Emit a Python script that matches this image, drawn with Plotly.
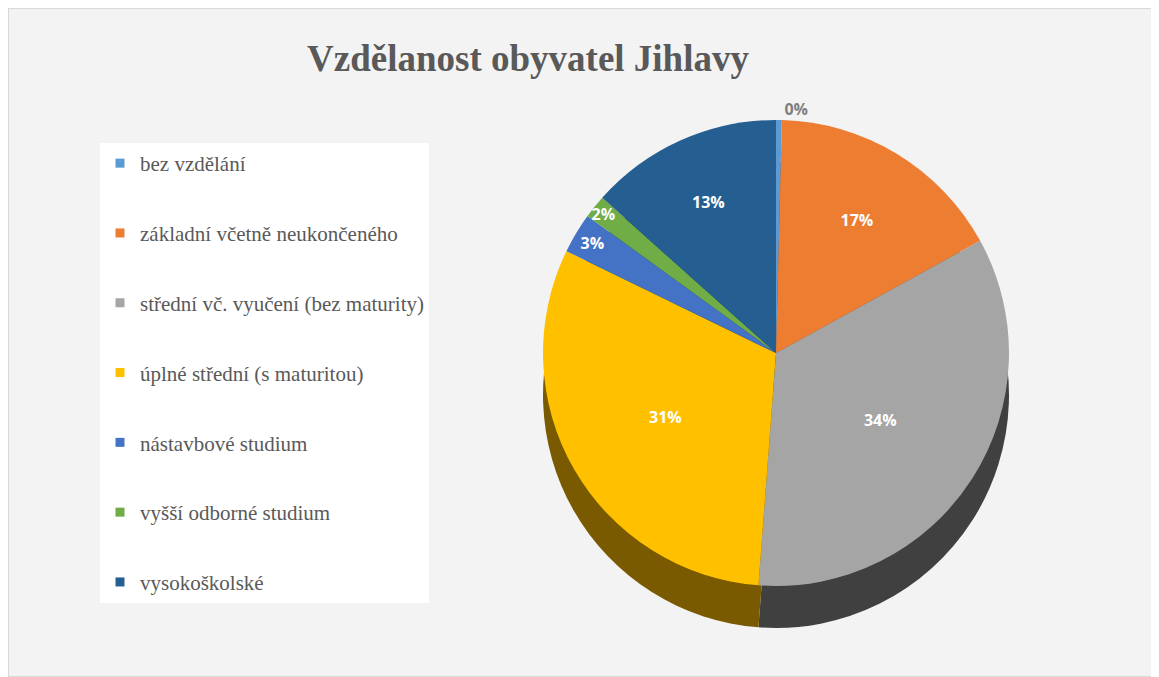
import plotly.graph_objects as go

title = "Vzdělanost obyvatel Jihlavy"
categories = [
    "bez vzdělání",
    "základní včetně neukončeného",
    "střední vč. vyučení (bez maturity)",
    "úplné střední (s maturitou)",
    "nástavbové studium",
    "vyšší odborné studium",
    "vysokoškolské",
]
shares = [0.4, 16.6, 34.2, 31.0, 2.8, 1.6, 13.4]
colors = ["#5B9BD5", "#ED7D31", "#A5A5A5", "#FFC000", "#4472C4", "#70AD47", "#255E91"]
side_colors = ["#2f5f8c", "#8a4416", "#404040", "#7a5a00", "#26427a", "#3f6627", "#143554"]
label_pos = ["outside", "inside", "inside", "inside", "inside", "inside", "inside"]

# the page body adds an 8px offset; size the figure to fill the window exactly
OFF = 8
W, H = 1159 - OFF, 677 - OFF

def px_x(v):
    return (v - OFF) / W

def px_y(v):
    return 1 - (v - OFF) / H

fig = go.Figure()

D = 466
cx, top = 776, 120
dx = [px_x(cx - D / 2), px_x(cx + D / 2)]

# 3D side (drawn behind, shifted down)
fig.add_trace(go.Pie(
    labels=categories, values=shares, sort=False, direction="clockwise", rotation=0,
    marker=dict(colors=side_colors, line=dict(width=0)),
    textinfo="none", hoverinfo="skip", showlegend=False,
    domain=dict(x=dx, y=[px_y(top + 42 + D), px_y(top + 42)]),
))

# top face
fig.add_trace(go.Pie(
    labels=categories, values=shares, sort=False, direction="clockwise", rotation=0,
    marker=dict(colors=colors, line=dict(width=0)),
    texttemplate="<b>%{percent:.0%}</b>", textposition=label_pos,
    insidetextorientation="horizontal",
    textfont=dict(family="Open Sans", size=16, color="white"),
    outsidetextfont=dict(family="Open Sans", size=16, color="#7f7f7f"),
    showlegend=False, automargin=False,
    domain=dict(x=dx, y=[px_y(top + D), px_y(top)]),
))

# legend entries
for i, (c, col) in enumerate(zip(categories, colors)):
    fig.add_trace(go.Scatter(
        x=[None], y=[None], mode="markers", name=c, legendgroup=f"g{i}",
        marker=dict(symbol="square", size=9, color=col), hoverinfo="skip",
    ))

fig.update_layout(
    width=W, height=H,
    margin=dict(l=0, r=0, t=0, b=0),
    paper_bgcolor="white",
    plot_bgcolor="rgba(0,0,0,0)",
    title=dict(text=f"<b>{title}</b>", x=px_x(528), xanchor="center", y=px_y(58), yanchor="middle",
               font=dict(family="Liberation Serif", size=37, color="#595959")),
    xaxis=dict(visible=False), yaxis=dict(visible=False),
    uniformtext=dict(minsize=16, mode="show"),
    legend=dict(x=px_x(100), y=px_y(143), xanchor="left", yanchor="top",
                bgcolor="white", tracegroupgap=39.5, itemclick=False,
                font=dict(family="Liberation Serif", size=21, color="#595959")),
    shapes=[dict(type="rect", xref="paper", yref="paper", x0=0, x1=1,
                 y0=0, y1=1, line=dict(color="#d9d9d9", width=2),
                 fillcolor="#f3f3f3", layer="below")],
)

fig.write_html("out.html")
